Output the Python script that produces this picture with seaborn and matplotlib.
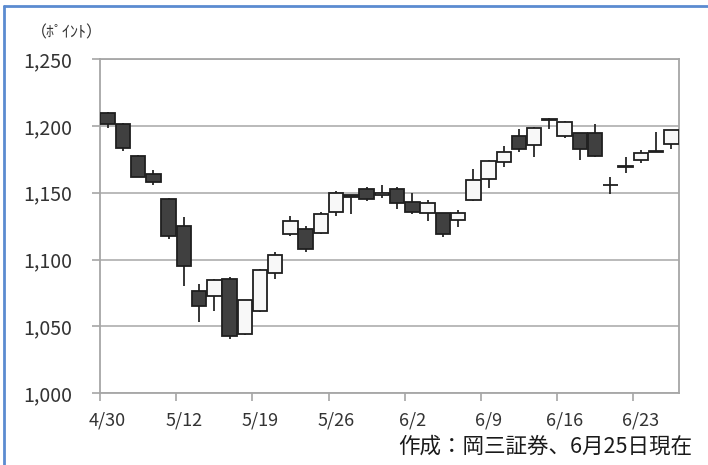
import numpy as np
import pandas as pd
import matplotlib
matplotlib.use("Agg")
import matplotlib.pyplot as plt
import seaborn as sns
from matplotlib.lines import Line2D

# daily candles, 4/30 - 6/25
dates = ["4/30", "5/1", "5/7", "5/8", "5/11", "5/12", "5/13", "5/14", "5/15", "5/18",
         "5/19", "5/20", "5/21", "5/22", "5/25", "5/26", "5/27", "5/28", "5/29", "6/1",
         "6/2", "6/3", "6/4", "6/5", "6/8", "6/9", "6/10", "6/11", "6/12", "6/15",
         "6/16", "6/17", "6/18", "6/19", "6/22", "6/23", "6/24", "6/25"]
opens = [1209.5, 1201.75, 1177.5, 1164.25, 1145.5, 1124.75, 1076.75, 1073, 1085.5, 1044.25,
         1061.25, 1090, 1118.75, 1122.5, 1119.5, 1135.75, 1148, 1152.75, 1148, 1152.75,
         1143.25, 1135, 1134.5, 1129.25, 1144.5, 1160.5, 1173, 1192.5, 1185.5, 1205,
         1192.5, 1194.5, 1194.5, 1155.75, 1169.5, 1174.5, 1181, 1186.75]
highs = [1210.5, 1202, 1178, 1166.75, 1146, 1132, 1082, 1085.5, 1087, 1070,
         1093, 1106, 1132.25, 1124.75, 1135.75, 1151, 1148.5, 1154.25, 1156, 1154.25,
         1149.75, 1144.5, 1135, 1137, 1167.5, 1174.75, 1184.75, 1198, 1199, 1205.75,
         1203.5, 1195, 1201.25, 1162, 1177, 1181.75, 1195.75, 1197]
lows = [1198.75, 1181.25, 1161.5, 1155.75, 1115, 1080.5, 1053.5, 1061.5, 1040.5, 1043.5,
        1060.5, 1085.75, 1117.75, 1105.75, 1119, 1132.25, 1134, 1144, 1145.75, 1137.75,
        1134, 1128.75, 1117, 1124.25, 1144, 1153.75, 1169.25, 1180.75, 1177, 1198,
        1191, 1174.25, 1177, 1149.25, 1164.5, 1172.5, 1180.5, 1183]
closes = [1201.75, 1183.5, 1162, 1157.75, 1117.5, 1095.5, 1065, 1084.75, 1042.75, 1069.5,
          1092, 1103.5, 1128.75, 1108, 1134, 1149.5, 1146.5, 1145.5, 1150, 1142,
          1135.75, 1142, 1119.25, 1134.5, 1159.5, 1173.75, 1180.75, 1182.5, 1198.75, 1204.5,
          1203.25, 1182.5, 1177.5, 1155.5, 1170, 1180, 1180.5, 1197]

label_dates = ["4/30", "5/12", "5/19", "5/26", "6/2", "6/9", "6/16", "6/23"]
y_ticks = [1000, 1050, 1100, 1150, 1200, 1250]

df = pd.DataFrame({"date": dates, "open": opens, "high": highs,
                   "low": lows, "close": closes})
df["x"] = np.arange(len(df))
df["up"] = df["close"] >= df["open"]

sns.set_theme(style="white")
plt.rcParams["font.family"] = ["Noto Sans CJK JP", "DejaVu Sans"]

grey = "#a6a6a6"
txt = "#333333"

fig = plt.figure(figsize=(7.08, 4.65), dpi=100)
ax = fig.add_axes([100 / 708, 1 - 393 / 465, 579 / 708, 333.7 / 465])

# wicks then bodies
ax.vlines(df["x"], df["low"], df["high"], color="#262626", lw=1.3, zorder=2)
body_bottom = df[["open", "close"]].min(axis=1)
body_h = (df["close"] - df["open"]).abs().clip(lower=0.3)
ax.bar(df["x"], body_h, bottom=body_bottom, width=0.95,
       color=np.where(df["up"], "#f8f8f8", "#404040"),
       edgecolor="#1f1f1f", linewidth=1.3, zorder=3)

ax.set_xlim(-0.5, len(df) - 0.5)
ax.set_ylim(1000, 1250)

# x axis: labels at category centres, tick marks between categories
label_pos = [dates.index(d) for d in label_dates]
ax.set_xticks(label_pos)
ax.set_xticklabels(label_dates, fontsize=13, color=txt)
ax.set_xticks([p - 0.5 for p in label_pos], minor=True)
ax.tick_params(axis="x", which="major", length=0, pad=13)
ax.tick_params(axis="x", which="minor", length=6, width=1.2, color=grey,
               direction="out", bottom=True)

ax.set_yticks(y_ticks)
ax.set_yticklabels([f"{v:,}" for v in y_ticks], fontsize=14, color=txt)
ax.tick_params(axis="y", length=6, width=1.2, color=grey, direction="out",
               left=True, pad=14)

ax.yaxis.grid(True, color="#b4b4b4", lw=1.3)
ax.set_axisbelow(True)
for s in ax.spines.values():
    s.set_color(grey)
    s.set_linewidth(1.3)

# outer chart frame (partly cropped in the original)
fig.add_artist(Line2D([4 / 708, 4 / 708], [0, 1 - 6 / 465],
                      transform=fig.transFigure, color="#5b8bd0", lw=2))
fig.add_artist(Line2D([4 / 708, 1], [1 - 6 / 465, 1 - 6 / 465],
                      transform=fig.transFigure, color="#5b8bd0", lw=2))

fig.text(31 / 708, 1 - 33 / 465, "（ﾎﾟｲﾝﾄ）", fontsize=11.5, color=txt,
         ha="left", va="center")
fig.text(692 / 708, 1 - 447 / 465, "作成：岡三証券、6月25日現在", fontsize=15.5,
         color="#1a1a1a", ha="right", va="center")

fig.savefig("out.png", dpi=100)
